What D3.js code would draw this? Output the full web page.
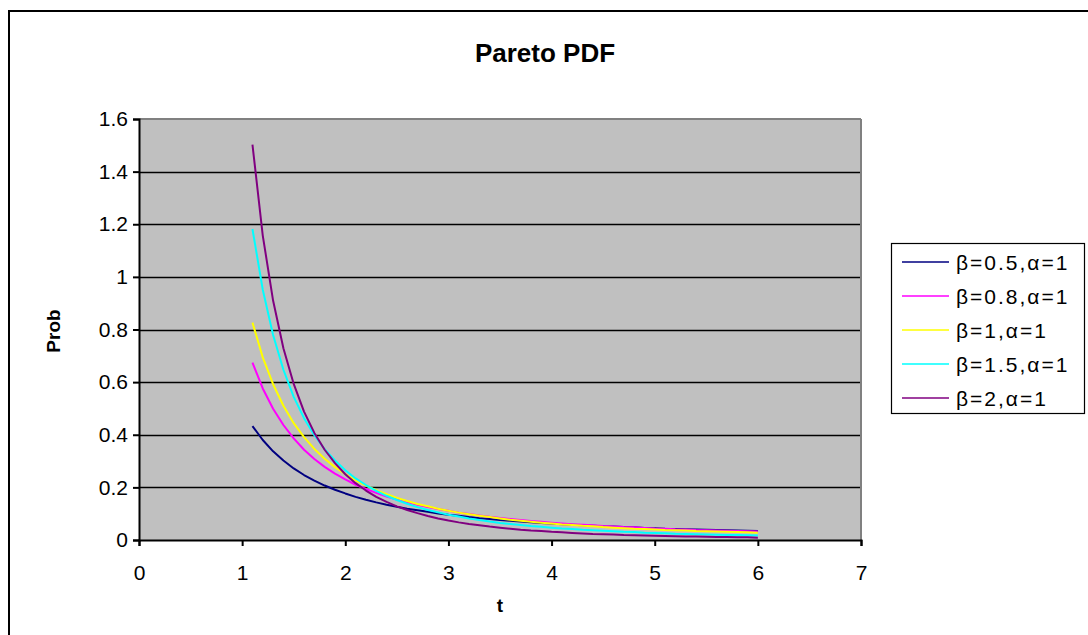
<!DOCTYPE html>
<html>
<head>
<meta charset="utf-8">
<script src="https://cdn.jsdelivr.net/npm/d3@7"></script>
<style>
  html, body { margin: 0; padding: 0; background: #fff; }
  svg { display: block; font-family: "Liberation Sans", Arial, sans-serif; }
</style>
</head>
<body>
<svg id="chart" width="1088" height="635"></svg>
<script>
const tValues = [1.1,1.2,1.3,1.4,1.5,1.6,1.7,1.8,1.9,2.0,2.1,2.2,2.3,2.4,2.5,2.6,2.7,2.8,2.9,3.0,
  3.1,3.2,3.3,3.4,3.5,3.6,3.7,3.8,3.9,4.0,4.1,4.2,4.3,4.4,4.5,4.6,4.7,4.8,4.9,5.0,
  5.1,5.2,5.3,5.4,5.5,5.6,5.7,5.8,5.9,6.0];

const seriesNames = ["β=0.5,α=1", "β=0.8,α=1", "β=1,α=1", "β=1.5,α=1", "β=2,α=1"];
const seriesColors = ["#000080", "#FF00FF", "#FFFF00", "#00FFFF", "#800080"];

const beta05 = [0.433,0.380,0.337,0.302,0.272,0.247,0.226,0.207,0.191,0.177,0.164,0.153,0.143,0.134,0.126,0.119,0.113,0.107,0.101,0.096,
  0.092,0.087,0.083,0.080,0.076,0.073,0.070,0.067,0.065,0.063,0.060,0.058,0.056,0.054,0.052,0.051,0.049,0.048,0.046,0.045,
  0.043,0.042,0.041,0.040,0.039,0.038,0.037,0.036,0.035,0.034];
const beta08 = [0.674,0.576,0.499,0.437,0.386,0.343,0.308,0.278,0.252,0.230,0.210,0.194,0.179,0.165,0.154,0.143,0.134,0.125,0.118,0.111,
  0.104,0.099,0.093,0.088,0.084,0.080,0.076,0.072,0.069,0.066,0.063,0.060,0.058,0.056,0.053,0.051,0.049,0.048,0.046,0.044,
  0.043,0.041,0.040,0.038,0.037,0.036,0.035,0.034,0.033,0.032];
const beta1 = [0.826,0.694,0.592,0.510,0.444,0.391,0.346,0.309,0.277,0.250,0.227,0.207,0.189,0.174,0.160,0.148,0.137,0.128,0.119,0.111,
  0.104,0.098,0.092,0.087,0.082,0.077,0.073,0.069,0.066,0.063,0.059,0.057,0.054,0.052,0.049,0.047,0.045,0.043,0.042,0.040,
  0.038,0.037,0.036,0.034,0.033,0.032,0.031,0.030,0.029,0.028];
const beta15 = [1.182,0.951,0.779,0.647,0.544,0.463,0.398,0.345,0.302,0.265,0.234,0.209,0.187,0.168,0.152,0.138,0.125,0.114,0.105,0.096,
  0.089,0.082,0.076,0.070,0.065,0.061,0.057,0.053,0.050,0.047,0.044,0.042,0.039,0.037,0.035,0.033,0.031,0.030,0.028,0.027,
  0.026,0.024,0.023,0.022,0.021,0.020,0.019,0.019,0.018,0.017];
const beta2 = [1.503,1.157,0.910,0.729,0.593,0.488,0.407,0.343,0.292,0.250,0.216,0.188,0.164,0.145,0.128,0.114,0.102,0.091,0.082,0.074,
  0.067,0.061,0.056,0.051,0.047,0.043,0.039,0.036,0.034,0.031,0.029,0.027,0.025,0.023,0.022,0.021,0.019,0.018,0.017,0.016,
  0.015,0.014,0.013,0.013,0.012,0.011,0.011,0.010,0.010,0.009];

const xTicks = [0,1,2,3,4,5,6,7];
const yTicks = [0,0.2,0.4,0.6,0.8,1,1.2,1.4,1.6];

const titleText = "Pareto PDF";
const xTitle = "t";
const yTitle = "Prob";

const seriesData = [beta05, beta08, beta1, beta15, beta2];

const svg = d3.select("#chart");

// outer chart border
svg.append("rect")
  .attr("x", 9).attr("y", 11).attr("width", 1100).attr("height", 700)
  .attr("fill", "#fff").attr("stroke", "#000").attr("stroke-width", 2);

const plot = { left: 139, right: 861, top: 119, bottom: 540 };

const x = d3.scaleLinear().domain([0, 7]).range([plot.left, plot.right]);
const y = d3.scaleLinear().domain([0, 1.6]).range([plot.bottom, plot.top]);

// plot background
svg.append("rect")
  .attr("x", plot.left).attr("y", plot.top)
  .attr("width", plot.right - plot.left).attr("height", plot.bottom - plot.top)
  .attr("fill", "#C0C0C0");

// gridlines
svg.append("g").selectAll("line")
  .data(yTicks.filter(d => d > 0 && d < 1.6))
  .join("line")
  .attr("x1", plot.left).attr("x2", plot.right)
  .attr("y1", d => Math.round(y(d)) + 0.5).attr("y2", d => Math.round(y(d)) + 0.5)
  .attr("stroke", "#000").attr("stroke-width", 1.3);

// plot border top/right in gray
svg.append("line")
  .attr("x1", plot.left).attr("x2", plot.right)
  .attr("y1", plot.top).attr("y2", plot.top)
  .attr("stroke", "#808080").attr("stroke-width", 2);
svg.append("line")
  .attr("x1", plot.right).attr("x2", plot.right)
  .attr("y1", plot.top).attr("y2", plot.bottom)
  .attr("stroke", "#808080").attr("stroke-width", 2);

// series
const line = d3.line().x((d, i) => x(tValues[i])).y(d => y(d));
svg.append("g").selectAll("path")
  .data(seriesData)
  .join("path")
  .attr("d", d => line(d))
  .attr("fill", "none")
  .attr("stroke", (d, i) => seriesColors[i])
  .attr("stroke-width", 2)
  .attr("stroke-linejoin", "round");

// axes
const xAxis = d3.axisBottom(x).tickValues(xTicks).tickFormat(d3.format("d")).tickSize(6).tickPadding(19);
const yAxis = d3.axisLeft(y).tickValues(yTicks).tickFormat(d => d === 0 ? "0" : d3.format("")(d)).tickSize(6).tickPadding(5);

const gx = svg.append("g").attr("transform", `translate(0,${plot.bottom})`).call(xAxis);
const gy = svg.append("g").attr("transform", `translate(${plot.left},0)`).call(yAxis);

[gx, gy].forEach(g => {
  g.select(".domain").attr("stroke", "#000").attr("stroke-width", 2);
  g.selectAll(".tick line").attr("stroke", "#000").attr("stroke-width", 2);
  g.selectAll(".tick text")
    .attr("fill", "#000")
    .style("font-family", "'Liberation Sans', Arial, sans-serif")
    .style("font-size", "21px");
});

// titles
svg.append("text")
  .attr("x", 545).attr("y", 62)
  .attr("text-anchor", "middle")
  .style("font-size", "26px").style("font-weight", "bold")
  .text(titleText);

svg.append("text")
  .attr("x", 500).attr("y", 612)
  .attr("text-anchor", "middle")
  .style("font-size", "19px").style("font-weight", "bold")
  .text(xTitle);

svg.append("text")
  .attr("transform", "translate(60,331) rotate(-90)")
  .attr("text-anchor", "middle")
  .style("font-size", "19px").style("font-weight", "bold")
  .text(yTitle);

// legend
const legend = svg.append("g");
legend.append("rect")
  .attr("x", 891.5).attr("y", 243.5).attr("width", 193).attr("height", 170)
  .attr("fill", "#fff").attr("stroke", "#000").attr("stroke-width", 1.2);

const rowY = d3.scalePoint().domain(seriesNames).range([262, 398]);
const items = legend.selectAll("g.item")
  .data(seriesNames)
  .join("g").attr("class", "item")
  .attr("transform", d => `translate(0,${rowY(d)})`);
items.append("line")
  .attr("x1", 902).attr("x2", 949).attr("y1", 0).attr("y2", 0)
  .attr("stroke", (d, i) => seriesColors[i]).attr("stroke-width", 1.6);
items.append("text")
  .attr("x", 956).attr("y", 0).attr("dy", "0.36em")
  .style("font-size", "21px")
  .style("letter-spacing", "2px")
  .text(d => d);
</script>
</body>
</html>
